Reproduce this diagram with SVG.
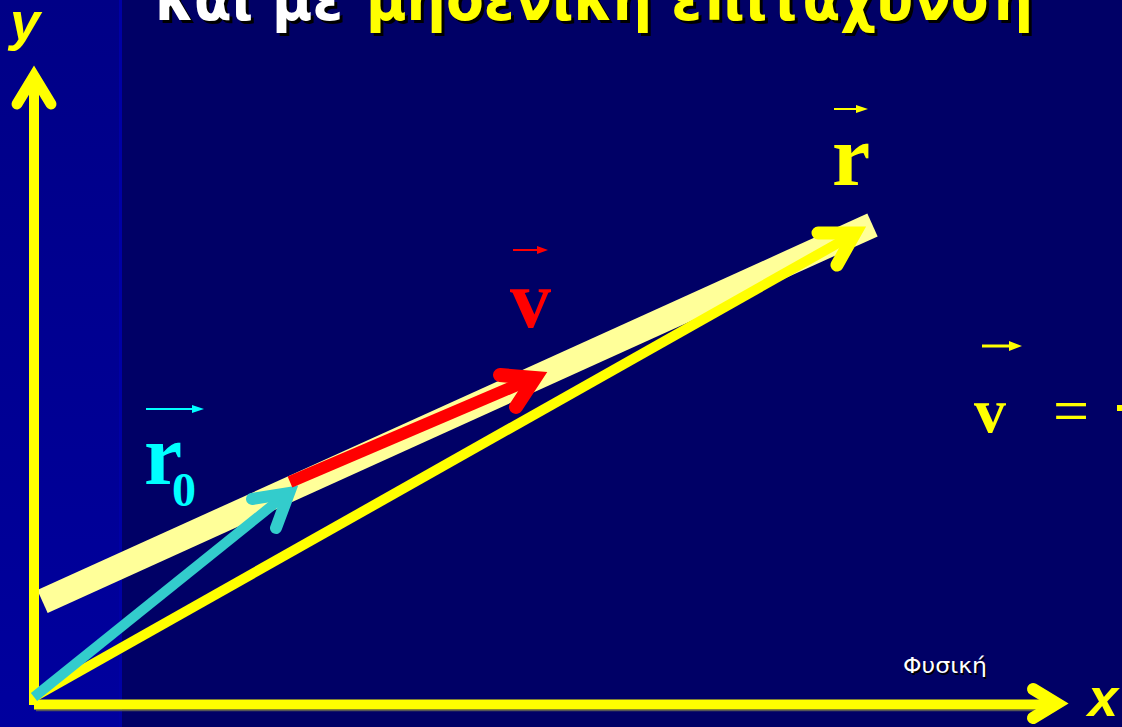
<svg xmlns="http://www.w3.org/2000/svg" width="1122" height="727" viewBox="0 0 1122 727">
<defs>
<linearGradient id="strip" x1="0" y1="0" x2="0" y2="1">
<stop offset="0" stop-color="#000086"/>
<stop offset="1" stop-color="#00009E"/>
</linearGradient>
<style>
.title{font-family:"DejaVu Sans","Liberation Sans",sans-serif;font-weight:bold;font-size:62px}
.sh{fill:#000000}
.lbl{font-family:"Liberation Serif","DejaVu Serif",serif;font-weight:bold}
.ax{font-family:"Liberation Sans","DejaVu Sans",sans-serif;font-weight:bold;font-style:italic;font-size:54px;fill:#FFFF00}
.foot{font-family:"DejaVu Sans","Liberation Sans",sans-serif;font-size:21px}
.line{fill:none;stroke-linecap:butt}
.head{fill:none;stroke-linecap:round;stroke-linejoin:miter;stroke-miterlimit:10}
.yel{stroke:#FFFF00}
.cy{stroke:#33CCCC}
.rd{stroke:#FF0000}
</style>
</defs>

<g id="background">
<rect x="0" y="0" width="1122" height="727" fill="#000066"/>
<rect x="0" y="0" width="120" height="727" fill="url(#strip)"/>
<rect x="119" y="0" width="3" height="727" fill="#0000A4"/>
</g>

<g id="title">
<text class="title sh" x="158" y="23" textLength="188" lengthAdjust="spacingAndGlyphs">και με</text>
<text class="title" x="155" y="20" fill="#FFFFFF" textLength="188" lengthAdjust="spacingAndGlyphs">και με</text>
<text class="title sh" x="369" y="23" textLength="667" lengthAdjust="spacingAndGlyphs">μηδενική επιτάχυνση</text>
<text class="title" x="366" y="20" fill="#FFFF00" textLength="667" lengthAdjust="spacingAndGlyphs">μηδενική επιτάχυνση</text>
</g>

<g id="band">
<line x1="42.5" y1="601.5" x2="872.5" y2="225" stroke="#FFFF99" stroke-width="25"/>
</g>

<g id="connectors">
<g id="axis-y">
<line class="line yel" x1="34" y1="705" x2="34" y2="78" stroke-width="10"/>
<polyline class="head yel" points="17,104 34,76 51,104" stroke-width="11"/>
</g>
<g id="axis-x">
<line x1="36" y1="710.5" x2="1050" y2="710.5" stroke="#555555" stroke-width="1.5"/>
<line class="line yel" x1="34" y1="704.5" x2="1058" y2="704.5" stroke-width="10"/>
<polyline class="head yel" points="1033,689 1057,703.5 1033,718" stroke-width="12"/>
</g>
<g id="vec-r">
<line class="line yel" x1="34" y1="697" x2="856" y2="233" stroke-width="10" stroke-linecap="round"/>
<polyline class="head yel" points="818,233 855,233 837,265" stroke-width="13"/>
</g>
<g id="vec-r0">
<line class="line cy" x1="34" y1="697" x2="289" y2="492" stroke-width="10"/>
<polyline class="head cy" points="252,499 289,493 276,528" stroke-width="12"/>
</g>
<g id="vec-v">
<line class="line rd" x1="290" y1="482" x2="536" y2="377" stroke-width="12"/>
<polyline class="head rd" points="500,375 535,378 516,407" stroke-width="14"/>
</g>
</g>

<g id="label-y">
<text class="ax" x="10" y="40">y</text>
</g>
<g id="label-x">
<text class="ax" x="1088" y="716">x</text>
</g>

<g id="label-r">
<line x1="834" y1="109" x2="858" y2="109" stroke="#FFFF00" stroke-width="2"/>
<polygon points="856,105 868,109 856,113" fill="#FFFF00"/>
<text class="lbl" x="832" y="185" font-size="86" fill="#FFFF00">r</text>
</g>

<g id="label-v">
<line x1="513" y1="250" x2="538" y2="250" stroke="#FF0000" stroke-width="2"/>
<polygon points="537,246 548,250 537,254" fill="#FF0000"/>
<text class="lbl" x="510" y="327" font-size="82" fill="#FF0000">v</text>
</g>

<g id="label-r0">
<line x1="146" y1="409" x2="194" y2="409" stroke="#00FFFF" stroke-width="2"/>
<polygon points="192,405 204,409 192,413" fill="#00FFFF"/>
<text class="lbl" x="144" y="484" font-size="86" fill="#00FFFF">r</text>
<text class="lbl" x="172" y="506" font-size="48" fill="#00FFFF">0</text>
</g>

<g id="equation">
<line x1="982" y1="346" x2="1011" y2="346" stroke="#FFFF00" stroke-width="3"/>
<polygon points="1009,341 1022,346 1009,351" fill="#FFFF00"/>
<text class="lbl" x="974" y="432" font-size="64" fill="#FFFF00">v</text>
<text x="1053" y="432" font-family="Liberation Serif, serif" font-size="64" fill="#FFFF00">=</text>
<rect x="1117" y="405" width="5" height="6" fill="#FFFF00"/>
</g>

<g id="footer">
<text class="foot" x="904.5" y="674.5" fill="#000000" textLength="84" lengthAdjust="spacingAndGlyphs">Φυσική</text>
<text class="foot" x="903" y="673" fill="#FFFFFF" textLength="84" lengthAdjust="spacingAndGlyphs">Φυσική</text>
</g>
</svg>
